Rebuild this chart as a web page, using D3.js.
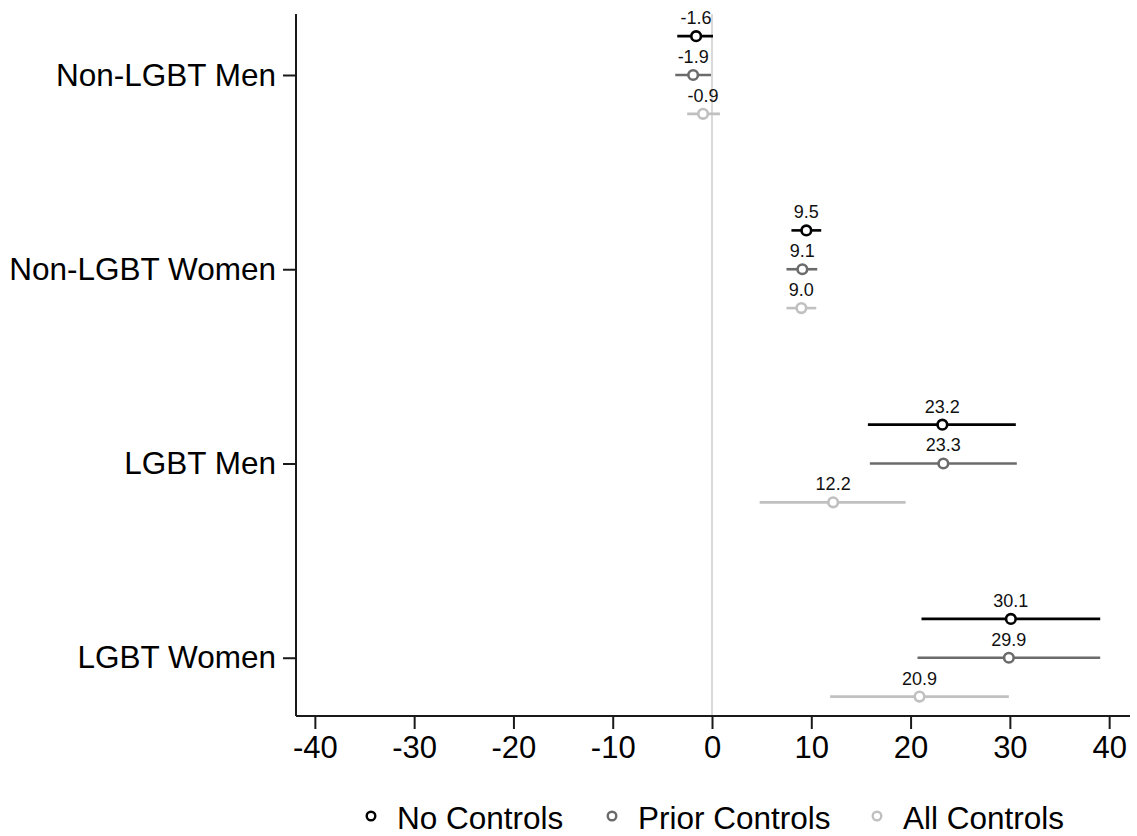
<!DOCTYPE html>
<html><head><meta charset="utf-8">
<script src="https://cdn.jsdelivr.net/npm/d3@7"></script>
<style>
html,body{margin:0;padding:0;background:#fff;}
text{font-family:Arial,"Liberation Sans",sans-serif;}
</style></head>
<body>
<svg id="chart" width="1137" height="836"></svg>
<script>
const categories = ["Non-LGBT Men","Non-LGBT Women","LGBT Men","LGBT Women"];
const seriesNames = ["No Controls","Prior Controls","All Controls"];
const seriesColors = ["#000000","#6b6b6b","#c0c0c0"];
const estNo    = [-1.6, 9.5, 23.2, 30.1];
const loNo     = [-3.5, 8.0, 15.7, 21.1];
const hiNo     = [0.1, 11.0, 30.6, 39.1];
const estPrior = [-1.9, 9.1, 23.3, 29.9];
const loPrior  = [-3.7, 7.5, 15.9, 20.7];
const hiPrior  = [-0.1, 10.6, 30.7, 39.1];
const estAll   = [-0.9, 9.0, 12.2, 20.9];
const loAll    = [-2.5, 7.5, 4.8, 11.9];
const hiAll    = [0.8, 10.5, 19.5, 29.9];
const xTicks = [-40,-30,-20,-10,0,10,20,30,40];

const series = [
  {est: estNo, lo: loNo, hi: hiNo},
  {est: estPrior, lo: loPrior, hi: hiPrior},
  {est: estAll, lo: loAll, hi: hiAll}
];
const offsets = [-0.2, 0, 0.2];

const svg = d3.select("#chart");
const x = d3.scaleLinear().domain([-41.9, 42.1]).range([296, 1130]);
const y = d3.scaleLinear().domain([-0.314, 3.30]).range([14, 716]);

// zero line
svg.append("line").attr("x1", x(0)).attr("x2", x(0)).attr("y1", y(-0.314)).attr("y2", y(3.30))
  .attr("stroke", "#d9d9d9").attr("stroke-width", 2);

// axes
const xAxis = svg.append("g").attr("transform", `translate(0,${y(3.30)})`)
  .call(d3.axisBottom(x).tickValues(xTicks).tickSize(13).tickSizeOuter(0).tickPadding(7).tickFormat(d => String(d)));
const yAxis = svg.append("g").attr("transform", `translate(${x(-41.9)},0)`)
  .call(d3.axisLeft(y).tickValues([0,1,2,3]).tickSize(13).tickSizeOuter(0).tickPadding(7).tickFormat(i => categories[i]));
[xAxis, yAxis].forEach(g => {
  g.selectAll("path,line").attr("stroke", "#1a1a1a").attr("stroke-width", 2);
  g.selectAll("text").attr("fill", "#000").attr("font-family", "Arial, 'Liberation Sans', sans-serif");
});
xAxis.selectAll("text").attr("font-size", 31);
yAxis.selectAll("text").attr("font-size", 31.5);
xAxis.select(".domain").attr("d", `M${x(-41.9)},0H${x(42.1)}`);
yAxis.select(".domain").attr("d", `M0,${y(-0.314)}V${y(3.30)}`);

// series
series.forEach((s, si) => {
  const g = svg.append("g");
  categories.forEach((c, ci) => {
    const yy = y(ci + offsets[si]);
    g.append("line").attr("x1", x(s.lo[ci])).attr("x2", x(s.hi[ci])).attr("y1", yy).attr("y2", yy)
      .attr("stroke", seriesColors[si]).attr("stroke-width", 2.6);
    g.append("circle").attr("cx", x(s.est[ci])).attr("cy", yy).attr("r", 4.8)
      .attr("fill", "#fff").attr("stroke", seriesColors[si]).attr("stroke-width", 2.6);
    g.append("text").attr("x", x(s.est[ci])).attr("y", yy - 12).attr("text-anchor", "middle")
      .attr("font-size", 18).attr("fill", "#111").text(s.est[ci].toFixed(1));
  });
});

// legend
const legX = [371, 612, 877];
seriesNames.forEach((n, i) => {
  svg.append("circle").attr("cx", legX[i]).attr("cy", 816).attr("r", 4.3)
    .attr("fill", "#fff").attr("stroke", seriesColors[i]).attr("stroke-width", 2.4);
  svg.append("text").attr("x", legX[i] + 26).attr("y", 829).attr("font-size", 31.5).attr("fill", "#000").text(n);
});
</script>
</body></html>
